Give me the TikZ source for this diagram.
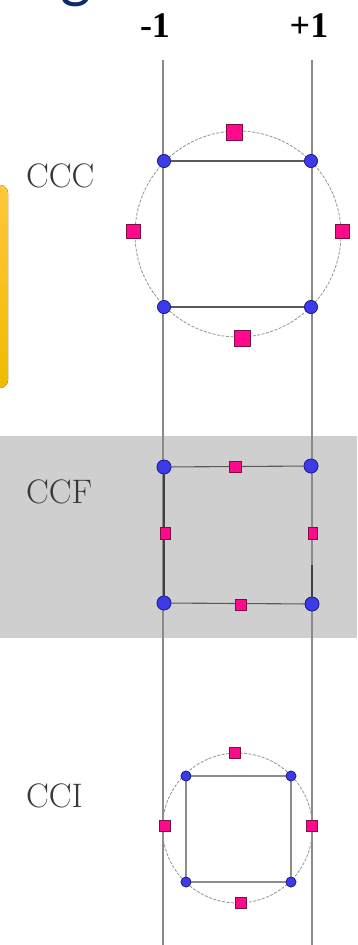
\documentclass[tikz,border=0pt]{standalone}
\usepackage{fontspec}
\newfontfamily\axisfont{Liberation Serif}
\newfontfamily\titlefont{Carlito}
\definecolor{dotblue}{HTML}{3B3BEA}
\definecolor{dotrim}{HTML}{1C1C7A}
\definecolor{sqpink}{HTML}{FF0A8C}
\definecolor{sqrim}{HTML}{7A1040}
\definecolor{bandgray}{HTML}{D0CFD0}
\definecolor{navy}{HTML}{0B2A6F}
\definecolor{railgray}{HTML}{8A8A8A}
\definecolor{edgegray}{HTML}{5A5A5A}
\definecolor{tabtop}{HTML}{FFC83A}
\definecolor{tabmid}{HTML}{FFC600}
\definecolor{tabbot}{HTML}{F0BB00}
\begin{document}
\begin{tikzpicture}[x=1pt,y=-1pt,
  vdot/.style={circle,fill=dotblue,draw=dotrim,line width=0.6pt,inner sep=0pt,minimum size=#1},
  fsq/.style={rectangle,fill=sqpink,draw=sqrim,line width=0.7pt,inner sep=0pt,minimum size=#1},
  fsqr/.style 2 args={rectangle,fill=sqpink,draw=sqrim,line width=0.7pt,inner sep=0pt,minimum width=#1,minimum height=#2},
  rail/.style={draw=railgray,line width=1.1pt},
  edge/.style={draw=edgegray,line width=1.1pt},
  hull/.style={draw=gray!85,line width=0.8pt,dash pattern=on 3pt off 1.5pt},
  design/.style={font=\fontsize{34}{34}\selectfont,text=black!78,anchor=base west,inner sep=0pt},
  level/.style={font=\axisfont\bfseries\fontsize{36}{36}\selectfont,anchor=base,inner sep=0pt}]
\useasboundingbox (0,0) rectangle (357,945);
\clip (0,0) rectangle (357,945);
\fill[white] (0,0) rectangle (357,945);

% title fragment at the top edge
\node[font=\titlefont\fontsize{66}{66}\selectfont,text=navy,anchor=base,inner sep=0pt] (title) at (76,-5) {g};

% side tab
\fill[rounded corners=8pt,top color=tabtop,middle color=tabmid,bottom color=tabbot] (-20,185) rectangle (8,388);

% shaded band behind the face-centred design
\fill[bandgray] (0,436) rectangle (357,638);

% factor levels
\node[level] (lo) at (155,37) {-1};
\node[level] (hi) at (309,37) {+1};

% vertical rails at -1 and +1
\coordinate (loT) at (163,60);
\coordinate (loB) at (163,945);
\coordinate (hiT) at (312,60);
\coordinate (hiB) at (312,945);
\path[rail] (loT) -- (loB);
\path[rail] (hiT) -- (hiB);

% design labels
\node[design] (ccc) at (26,187) {CCC};
\node[design] (ccf) at (26,503) {CCF};
\node[design] (cci) at (26,807) {CCI};

% ---- CCC: circumscribed ----
\coordinate (cccO) at (238,234);
\path[hull] (cccO) circle[radius=103];
\node[vdot=13pt] (c1) at (164,161) {};
\node[vdot=13pt] (c2) at (311,161) {};
\node[vdot=13pt] (c3) at (164,307) {};
\node[vdot=13pt] (c4) at (311,307) {};
\path[edge] (c1) -- (c2);
\path[edge] (c3) -- (c4);
\node[vdot=13pt] at (c1) {};
\node[vdot=13pt] at (c2) {};
\node[vdot=13pt] at (c3) {};
\node[vdot=13pt] at (c4) {};
\node[fsq=16pt] (a1) at (234,132) {};
\node[fsq=14pt] (a2) at (133,231) {};
\node[fsq=14pt] (a3) at (342,231) {};
\node[fsq=16pt] (a4) at (242,338) {};

% ---- CCF: face-centred ----
\node[vdot=14pt] (f1) at (164,467) {};
\node[vdot=14pt] (f2) at (311,466) {};
\node[vdot=14pt] (f3) at (164,603) {};
\node[vdot=14pt] (f4) at (312,604) {};
\path[edge] (f1) -- (f2);
\path[edge] (f3) -- (f4);
\path[draw=black!75,line width=1.4pt] (f1) -- (f3);
\coordinate (fR) at (312,565);
\path[draw=black!75,line width=1.4pt] (fR) -- (f4);
\node[vdot=14pt] at (f1) {};
\node[vdot=14pt] at (f2) {};
\node[vdot=14pt] at (f3) {};
\node[vdot=14pt] at (f4) {};
\node[fsqr={12pt}{11pt}] (b1) at (235,467) {};
\node[fsqr={10pt}{12pt}] (b2) at (165,533) {};
\node[fsqr={9pt}{12pt}] (b3) at (313,533) {};
\node[fsqr={11pt}{11pt}] (b4) at (241,605) {};

% ---- CCI: inscribed ----
\coordinate (cciO) at (237.5,828);
\path[hull] (cciO) circle[radius=75];
\node[vdot=10pt] (i1) at (186,776) {};
\node[vdot=10pt] (i2) at (291,776) {};
\node[vdot=10pt] (i3) at (186,882) {};
\node[vdot=10pt] (i4) at (291,882) {};
\path[draw=gray!90,line width=1.1pt] (i1) -- (i2) -- (i4) -- (i3) -- (i1);
\node[vdot=10pt] at (i1) {};
\node[vdot=10pt] at (i2) {};
\node[vdot=10pt] at (i3) {};
\node[vdot=10pt] at (i4) {};
\node[fsq=11pt] (s1) at (235,753) {};
\node[fsq=11pt] (s2) at (165,826) {};
\node[fsq=11pt] (s3) at (312,826) {};
\node[fsq=11pt] (s4) at (241,903) {};
\end{tikzpicture}
\end{document}
